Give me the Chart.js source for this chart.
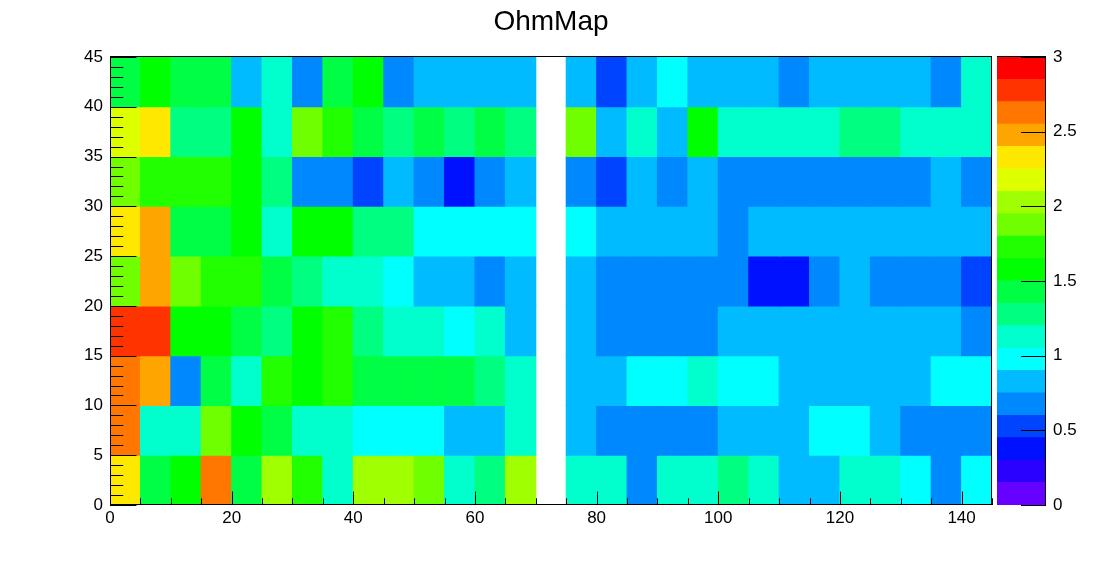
<!DOCTYPE html>
<html>
<head>
<meta charset="utf-8">
<title>OhmMap</title>
<script src="https://cdn.jsdelivr.net/npm/chart.js@4.4.1/dist/chart.umd.min.js"></script>
<style>
  html, body { margin: 0; padding: 0; background: #fff; }
  #wrap { position: relative; width: 1102px; height: 562px; }
  #wrap canvas { position: absolute; left: 0; top: 0; }
</style>
</head>
<body>
<div id="wrap">
  <canvas id="map" width="1102" height="562"></canvas>
  <canvas id="pal" width="1102" height="562"></canvas>
</div>
<script>
// bin lower edges (width 5 in both directions)
const BIN = 5;
const xLow = [0, 5, 10, 15, 20, 25, 30, 35, 40, 45, 50, 55, 60, 65, 70, 75, 80, 85, 90, 95, 100, 105, 110, 115, 120, 125, 130, 135, 140];
const yLow = [0, 5, 10, 15, 20, 25, 30, 35, 40];

// ohm values per y-bin row, null = empty bin
const row0 = [2.33, 1.43, 1.56, 2.62, 1.41, 2.04, 1.73, 1.13, 2.02, 2.05, 1.87, 1.11, 1.28, 2.01, null, 1.12, 1.14, 0.69, 1.12, 1.10, 1.26, 1.13, 0.84, 0.82, 1.11, 1.13, 0.98, 0.66, 0.96];
const row1 = [2.63, 1.12, 1.13, 1.86, 1.58, 1.43, 1.11, 1.14, 0.97, 0.98, 0.96, 0.84, 0.82, 1.12, null, 0.83, 0.68, 0.67, 0.69, 0.68, 0.82, 0.84, 0.83, 0.97, 0.99, 0.83, 0.67, 0.68, 0.69];
const row2 = [2.61, 2.48, 0.68, 1.42, 1.13, 1.71, 1.57, 1.73, 1.43, 1.42, 1.44, 1.41, 1.27, 1.12, null, 0.84, 0.82, 0.98, 0.97, 1.11, 0.96, 0.98, 0.83, 0.84, 0.82, 0.83, 0.84, 0.97, 0.98];
const row3 = [2.78, 2.77, 1.58, 1.56, 1.42, 1.28, 1.58, 1.72, 1.26, 1.12, 1.13, 0.97, 1.11, 0.83, null, 0.82, 0.68, 0.67, 0.68, 0.69, 0.83, 0.84, 0.82, 0.83, 0.84, 0.83, 0.82, 0.84, 0.68];
const row4 = [1.87, 2.47, 1.88, 1.72, 1.73, 1.43, 1.27, 1.13, 1.12, 0.98, 0.83, 0.84, 0.68, 0.82, null, 0.83, 0.67, 0.68, 0.69, 0.68, 0.67, 0.37, 0.39, 0.68, 0.84, 0.67, 0.68, 0.69, 0.53];
const row5 = [2.32, 2.48, 1.42, 1.43, 1.57, 1.12, 1.58, 1.56, 1.28, 1.27, 0.97, 0.98, 0.96, 0.97, null, 0.98, 0.83, 0.84, 0.82, 0.83, 0.68, 0.83, 0.84, 0.82, 0.83, 0.84, 0.83, 0.82, 0.84];
const row6 = [1.86, 1.72, 1.73, 1.71, 1.57, 1.27, 0.68, 0.67, 0.53, 0.83, 0.68, 0.38, 0.69, 0.84, null, 0.68, 0.52, 0.83, 0.67, 0.84, 0.68, 0.67, 0.69, 0.68, 0.67, 0.68, 0.69, 0.83, 0.68];
const row7 = [2.18, 2.33, 1.27, 1.28, 1.57, 1.12, 1.87, 1.72, 1.42, 1.27, 1.43, 1.28, 1.41, 1.26, null, 1.88, 0.83, 1.12, 0.84, 1.58, 1.13, 1.12, 1.11, 1.13, 1.27, 1.28, 1.12, 1.13, 1.12];
const row8 = [1.42, 1.57, 1.43, 1.41, 0.83, 1.12, 0.68, 1.42, 1.58, 0.67, 0.83, 0.84, 0.82, 0.83, null, 0.84, 0.52, 0.83, 0.97, 0.82, 0.84, 0.83, 0.68, 0.83, 0.82, 0.84, 0.83, 0.67, 1.13];
const rows = [row0, row1, row2, row3, row4, row5, row6, row7, row8];

// colour contours: 20 levels between 0 and 3
const levels = [0, 0.15, 0.3, 0.45, 0.6, 0.75, 0.9, 1.05, 1.2, 1.35, 1.5, 1.65, 1.8, 1.95, 2.1, 2.25, 2.4, 2.55, 2.7, 2.85, 3];
const PALETTE = [
  '#6600ff', '#2a00ff', '#0011ff', '#0044ff', '#0088ff',
  '#00bbff', '#00ffff', '#00ffcc', '#00ff80', '#00ff44',
  '#00ff00', '#22ff00', '#70ff00', '#a0ff00', '#ddff00',
  '#ffe800', '#ffa500', '#ff7700', '#ff3300', '#ff0000',
];
const paletteTicks = [0, 0.5, 1, 1.5, 2, 2.5, 3];

const FONT = "'Liberation Sans', Arial, Helvetica, sans-serif";

function colorFor(z) {
  let i = 0;
  while (i < PALETTE.length - 1 && z >= levels[i + 1]) i++;
  return PALETTE[i];
}

const cells = [];
rows.forEach((row, r) => {
  row.forEach((z, c) => {
    if (z === null) return;
    cells.push({ x: xLow[c] + BIN / 2, y: [yLow[r], yLow[r] + BIN], z });
  });
});

// ROOT-like frame, inward ticks and title
const frameTicks = {
  id: 'frameTicks',
  beforeDatasetsDraw(chart) {
    const { ctx, chartArea: a } = chart;
    ctx.save();
    ctx.strokeStyle = '#000';
    ctx.lineWidth = 1;
    ctx.strokeRect(a.left + 0.5, a.top - 0.5, a.right - a.left - 1, a.bottom - a.top);
    ctx.restore();
  },
  afterDatasetsDraw(chart) {
    const { ctx, chartArea: a, scales } = chart;
    const xs = scales.x, ys = scales.y;
    const h = a.bottom - a.top, w = a.right - a.left;
    ctx.save();
    ctx.strokeStyle = '#000';
    ctx.lineWidth = 1;
    ctx.beginPath();
    // axis lines
    ctx.moveTo(a.left + 0.5, a.top - 1); ctx.lineTo(a.left + 0.5, a.bottom);
    ctx.moveTo(a.left, a.bottom - 0.5); ctx.lineTo(a.right, a.bottom - 0.5);
    ctx.moveTo(a.right - 0.5, a.top - 1); ctx.lineTo(a.right - 0.5, a.bottom);
    // x ticks: major every 20, minor every 5
    for (let v = 0; v <= xs.max; v += 5) {
      const px = Math.round(xs.getPixelForValue(v)) + 0.5;
      const len = v % 20 === 0 ? 0.03 * h : 0.015 * h;
      ctx.moveTo(px, a.bottom);
      ctx.lineTo(px, a.bottom - len);
    }
    // y ticks: major every 5, minor every 1
    for (let v = 0; v <= ys.max; v += 1) {
      const py = Math.round(ys.getPixelForValue(v)) + 0.5;
      const len = v % 5 === 0 ? 0.03 * w : 0.015 * w;
      ctx.moveTo(a.left, py);
      ctx.lineTo(a.left + len, py);
    }
    ctx.stroke();
    ctx.restore();
  },
  afterDraw(chart) {
    const { ctx } = chart;
    ctx.save();
    ctx.fillStyle = '#000';
    ctx.font = '28px ' + FONT;
    ctx.textAlign = 'center';
    ctx.textBaseline = 'alphabetic';
    ctx.fillText('OhmMap', 551, 30);
    ctx.restore();
  },
};

new Chart(document.getElementById('map'), {
  type: 'bar',
  data: {
    datasets: [{
      data: cells,
      backgroundColor: ctx => (ctx.raw ? colorFor(ctx.raw.z) : '#fff'),
      borderWidth: 0,
      barPercentage: 1,
      categoryPercentage: 1,
      inflateAmount: 0.5,
    }],
  },
  options: {
    responsive: false,
    animation: false,
    events: [],
    layout: { padding: { left: 0, top: 57, right: 110, bottom: 0 } },
    plugins: {
      legend: { display: false },
      tooltip: { enabled: false },
      title: { display: false },
    },
    scales: {
      x: {
        type: 'linear',
        min: 0,
        max: 145,
        offset: false,
        afterFit: s => { s.height = 57; },
        ticks: {
          stepSize: 20,
          includeBounds: false,
          autoSkip: false,
          maxRotation: 0,
          color: '#000',
          padding: 3,
          font: { family: FONT, size: 17 },
        },
        grid: { display: false, drawTicks: false, offset: false },
        border: { display: false },
      },
      y: {
        type: 'linear',
        min: 0,
        max: 45,
        afterFit: s => { s.width = 110; },
        ticks: {
          stepSize: 5,
          includeBounds: false,
          color: '#000',
          padding: 7,
          font: { family: FONT, size: 17 },
          callback: v => String(v),
        },
        grid: { display: false, drawTicks: false },
        border: { display: false },
      },
    },
  },
  plugins: [frameTicks],
});

// colour palette axis on the right
const paletteAxis = {
  id: 'paletteAxis',
  afterDatasetsDraw(chart) {
    const { ctx, chartArea: a, scales } = chart;
    ctx.save();
    ctx.strokeStyle = '#000';
    ctx.lineWidth = 1;
    ctx.beginPath();
    ctx.moveTo(a.right - 0.5, a.top - 1); ctx.lineTo(a.right - 0.5, a.bottom);
    ctx.moveTo(a.left, a.top - 0.5); ctx.lineTo(a.right, a.top - 0.5);
    paletteTicks.forEach(v => {
      const py = Math.round(scales.y.getPixelForValue(v)) + 0.5;
      ctx.moveTo(a.right, py);
      ctx.lineTo(a.right - 25, py);
    });
    ctx.stroke();
    ctx.restore();
  },
};

new Chart(document.getElementById('pal'), {
  type: 'bar',
  data: {
    labels: ['z'],
    datasets: PALETTE.map((col, i) => ({
      data: [levels[i + 1] - levels[i]],
      backgroundColor: col,
      borderWidth: 0,
      barPercentage: 1,
      categoryPercentage: 1,
      inflateAmount: 0.5,
    })),
  },
  options: {
    responsive: false,
    animation: false,
    events: [],
    layout: { padding: { left: 997, top: 57, right: 0, bottom: 57 } },
    plugins: {
      legend: { display: false },
      tooltip: { enabled: false },
    },
    scales: {
      x: { stacked: true, display: false },
      y: {
        stacked: true,
        position: 'right',
        min: 0,
        max: 3,
        afterFit: s => { s.width = 56; },
        ticks: {
          stepSize: 0.5,
          color: '#000',
          padding: 7,
          font: { family: FONT, size: 17 },
          callback: v => String(v),
        },
        grid: { display: false, drawTicks: false },
        border: { display: false },
      },
    },
  },
  plugins: [paletteAxis],
});
</script>
</body>
</html>
